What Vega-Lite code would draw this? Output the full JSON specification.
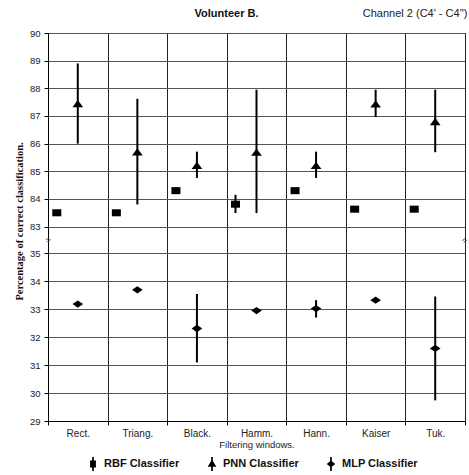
{
  "$schema": "https://vega.github.io/schema/vega-lite/v6.json",
  "width": 417,
  "height": 388,
  "autosize": {"type": "none"},
  "padding": {"left": 48, "top": 33, "right": 4, "bottom": 54},
  "background": "white",
  "title": {"text": "Volunteer B.", "font": "Liberation Sans", "fontSize": 11, "fontWeight": "bold", "anchor": "middle", "dx": -30, "offset": -12, "color": "#111"},
  "datasets": {
    "breaks": [
      {"window": "Rect.", "level": 59, "sym": "="},
      {"window": "Tuk.", "level": 59, "sym": "="}
    ]
  },
  "data": {"values": [
    {"window": "Rect.", "classifier": "RBF Classifier", "mean": 83.5, "lo": 83.5, "hi": 83.5},
    {"window": "Triang.", "classifier": "RBF Classifier", "mean": 83.5, "lo": 83.5, "hi": 83.5},
    {"window": "Black.", "classifier": "RBF Classifier", "mean": 84.3, "lo": 84.3, "hi": 84.3},
    {"window": "Hamm.", "classifier": "RBF Classifier", "mean": 83.81, "lo": 83.49, "hi": 84.15},
    {"window": "Hann.", "classifier": "RBF Classifier", "mean": 84.3, "lo": 84.2, "hi": 84.38},
    {"window": "Kaiser", "classifier": "RBF Classifier", "mean": 83.63, "lo": 83.55, "hi": 83.7},
    {"window": "Tuk.", "classifier": "RBF Classifier", "mean": 83.63, "lo": 83.55, "hi": 83.7},
    {"window": "Rect.", "classifier": "PNN Classifier", "mean": 87.45, "lo": 86.0, "hi": 88.9},
    {"window": "Triang.", "classifier": "PNN Classifier", "mean": 85.7, "lo": 83.8, "hi": 87.62},
    {"window": "Black.", "classifier": "PNN Classifier", "mean": 85.21, "lo": 84.76, "hi": 85.71},
    {"window": "Hamm.", "classifier": "PNN Classifier", "mean": 85.69, "lo": 83.49, "hi": 87.95},
    {"window": "Hann.", "classifier": "PNN Classifier", "mean": 85.21, "lo": 84.76, "hi": 85.71},
    {"window": "Kaiser", "classifier": "PNN Classifier", "mean": 87.44, "lo": 86.96, "hi": 87.95},
    {"window": "Tuk.", "classifier": "PNN Classifier", "mean": 86.8, "lo": 85.69, "hi": 87.95},
    {"window": "Rect.", "classifier": "MLP Classifier", "mean": 33.18, "lo": 33.18, "hi": 33.18},
    {"window": "Triang.", "classifier": "MLP Classifier", "mean": 33.69, "lo": 33.69, "hi": 33.69},
    {"window": "Black.", "classifier": "MLP Classifier", "mean": 32.31, "lo": 31.1, "hi": 33.54},
    {"window": "Hamm.", "classifier": "MLP Classifier", "mean": 32.95, "lo": 32.95, "hi": 32.95},
    {"window": "Hann.", "classifier": "MLP Classifier", "mean": 33.02, "lo": 32.7, "hi": 33.32},
    {"window": "Kaiser", "classifier": "MLP Classifier", "mean": 33.32, "lo": 33.32, "hi": 33.32},
    {"window": "Tuk.", "classifier": "MLP Classifier", "mean": 31.6, "lo": 29.75, "hi": 33.45}
  ]},
  "layer": [
    {
      "transform": [{"filter": "datum.classifier === 'RBF Classifier'"}],
      "mark": {"type": "rule", "color": "#000", "strokeWidth": 2, "xOffset": -21},
      "encoding": {
        "x": {"field": "window", "type": "nominal", "sort": null, "scale": {"paddingInner": 0, "paddingOuter": 0},
          "axis": {"title": "Filtering windows.", "labelAngle": 0, "tickBand": "extent", "grid": true, "gridColor": "#222", "tickSize": 4, "tickColor": "#000", "labelFont": "Liberation Sans", "labelFontSize": 10, "labelColor": "#222", "labelPadding": 3, "titleFont": "Liberation Sans", "titleFontSize": 9.5, "titleFontWeight": "normal", "titleColor": "#222", "titlePadding": 1, "domainColor": "#000"}},
        "y": {"field": "lo", "type": "quantitative",
          "scale": {"domain": [29, 35, 83, 90], "range": [388.4, 220, 193.6, 0], "nice": false, "zero": false},
          "axis": {"title": "Percentage of correct classification.", "values": [29, 30, 31, 32, 33, 34, 35, 83, 84, 85, 86, 87, 88, 89, 90], "grid": true, "gridColor": "#555", "tickSize": 4, "tickColor": "#000", "domainColor": "#000", "labelFont": "Liberation Sans", "labelFontSize": 9.5, "labelColor": "#222", "labelPadding": 4, "titleFont": "Liberation Serif", "titleFontWeight": "bold", "titleFontSize": 10.5, "titleColor": "#111", "titleX": -29, "titleY": 188, "titleAngle": -90, "titleBaseline": "middle", "titleAlign": "center"}},
        "y2": {"field": "hi"}
      }
    },
    {
      "transform": [{"filter": "datum.classifier === 'RBF Classifier'"}],
      "mark": {"type": "point", "filled": true, "color": "#000", "opacity": 1, "size": 121, "strokeWidth": 0, "xOffset": -21},
      "encoding": {
        "x": {"field": "window", "type": "nominal", "sort": null, "scale": {"paddingInner": 0, "paddingOuter": 0},
          "axis": {"orient": "top", "title": "Channel 2 (C4' - C4'')", "labels": false, "ticks": false, "domain": false, "grid": false, "titleAnchor": "end", "titleAlign": "right", "titleX": 419, "titleY": -17, "titleBaseline": "alphabetic", "titleFont": "Liberation Sans", "titleFontSize": 11, "titleFontWeight": "normal", "titleColor": "#222"}},
        "y": {"field": "mean", "type": "quantitative",
          "scale": {"domain": [29, 35, 83, 90], "range": [388.4, 220, 193.6, 0], "nice": false, "zero": false},
          "axis": {"title": "Percentage of correct classification.", "values": [29, 30, 31, 32, 33, 34, 35, 83, 84, 85, 86, 87, 88, 89, 90], "grid": true, "gridColor": "#555", "tickSize": 4, "tickColor": "#000", "domainColor": "#000", "labelFont": "Liberation Sans", "labelFontSize": 9.5, "labelColor": "#222", "labelPadding": 4, "titleFont": "Liberation Serif", "titleFontWeight": "bold", "titleFontSize": 10.5, "titleColor": "#111", "titleX": -29, "titleY": 188, "titleAngle": -90, "titleBaseline": "middle", "titleAlign": "center"}},
        "shape": {"field": "classifier", "type": "nominal",
          "scale": {"domain": ["RBF Classifier", "PNN Classifier", "MLP Classifier"], "range": ["M-0.82,-0.64H0.82V0.64H-0.82Z", "M0,-0.66L0.97,0.66H-0.97Z", "M0,-0.66L0.97,0L0,0.66L-0.97,0Z"]},
          "legend": null}
      }
    },
    {
      "transform": [{"filter": "datum.classifier !== 'RBF Classifier'"}],
      "mark": {"type": "rule", "color": "#000", "strokeWidth": 2},
      "encoding": {
        "x": {"field": "window", "type": "nominal", "sort": null, "scale": {"paddingInner": 0, "paddingOuter": 0}, "axis": null},
        "y": {"field": "lo", "type": "quantitative",
          "scale": {"domain": [29, 35, 83, 90], "range": [388.4, 220, 193.6, 0], "nice": false, "zero": false},
          "axis": {"title": "Percentage of correct classification.", "values": [29, 30, 31, 32, 33, 34, 35, 83, 84, 85, 86, 87, 88, 89, 90], "grid": true, "gridColor": "#555", "tickSize": 4, "tickColor": "#000", "domainColor": "#000", "labelFont": "Liberation Sans", "labelFontSize": 9.5, "labelColor": "#222", "labelPadding": 4, "titleFont": "Liberation Serif", "titleFontWeight": "bold", "titleFontSize": 10.5, "titleColor": "#111", "titleX": -29, "titleY": 188, "titleAngle": -90, "titleBaseline": "middle", "titleAlign": "center"}},
        "y2": {"field": "hi"}
      }
    },
    {
      "transform": [{"filter": "datum.classifier !== 'RBF Classifier'"}],
      "mark": {"type": "point", "filled": true, "color": "#000", "opacity": 1, "size": 121, "strokeWidth": 0},
      "encoding": {
        "x": {"field": "window", "type": "nominal", "sort": null, "scale": {"paddingInner": 0, "paddingOuter": 0}, "axis": null},
        "y": {"field": "mean", "type": "quantitative",
          "scale": {"domain": [29, 35, 83, 90], "range": [388.4, 220, 193.6, 0], "nice": false, "zero": false},
          "axis": {"title": "Percentage of correct classification.", "values": [29, 30, 31, 32, 33, 34, 35, 83, 84, 85, 86, 87, 88, 89, 90], "grid": true, "gridColor": "#555", "tickSize": 4, "tickColor": "#000", "domainColor": "#000", "labelFont": "Liberation Sans", "labelFontSize": 9.5, "labelColor": "#222", "labelPadding": 4, "titleFont": "Liberation Serif", "titleFontWeight": "bold", "titleFontSize": 10.5, "titleColor": "#111", "titleX": -29, "titleY": 188, "titleAngle": -90, "titleBaseline": "middle", "titleAlign": "center"}},
        "shape": {"field": "classifier", "type": "nominal",
          "scale": {"domain": ["RBF Classifier", "PNN Classifier", "MLP Classifier"], "range": ["M-0.82,-0.64H0.82V0.64H-0.82Z", "M0,-0.66L0.97,0.66H-0.97Z", "M0,-0.66L0.97,0L0,0.66L-0.97,0Z"]},
          "legend": null}
      }
    },
    {
      "mark": {"type": "point", "filled": true, "color": "#000", "opacity": 0, "size": 10, "strokeWidth": 0},
      "encoding": {
        "x": {"field": "window", "type": "nominal", "sort": null, "scale": {"paddingInner": 0, "paddingOuter": 0}, "axis": null},
        "y": {"field": "mean", "type": "quantitative",
          "scale": {"domain": [29, 35, 83, 90], "range": [388.4, 220, 193.6, 0], "nice": false, "zero": false},
          "axis": {"title": "Percentage of correct classification.", "values": [29, 30, 31, 32, 33, 34, 35, 83, 84, 85, 86, 87, 88, 89, 90], "grid": true, "gridColor": "#555", "tickSize": 4, "tickColor": "#000", "domainColor": "#000", "labelFont": "Liberation Sans", "labelFontSize": 9.5, "labelColor": "#222", "labelPadding": 4, "titleFont": "Liberation Serif", "titleFontWeight": "bold", "titleFontSize": 10.5, "titleColor": "#111", "titleX": -29, "titleY": 188, "titleAngle": -90, "titleBaseline": "middle", "titleAlign": "center"}},
        "shape": {"field": "classifier", "type": "nominal",
          "scale": {"domain": ["RBF Classifier", "PNN Classifier", "MLP Classifier"], "range": ["M-0.12,-1H0.12V1H-0.12Z M-0.42,-0.5H0.42V0.5H-0.42Z", "M-0.12,-1H0.12V1H-0.12Z M0,-0.65L0.62,0.4H-0.62Z", "M-0.12,-1H0.12V1H-0.12Z M0,-0.5L0.6,0L0,0.5L-0.6,0Z"]},
          "legend": {"orient": "none", "direction": "horizontal", "legendX": 38, "legendY": 424, "title": null, "labelFont": "Liberation Sans", "labelFontWeight": "bold", "labelFontSize": 11, "labelColor": "#111", "symbolSize": 196, "symbolFillColor": "#000", "symbolStrokeWidth": 0, "symbolOpacity": 1, "columnPadding": 25, "labelOffset": 4}}
      }
    },
    {
      "data": {"name": "breaks"},
      "transform": [{"filter": "datum.window === 'Rect.'"}],
      "mark": {"type": "text", "color": "#333", "fontSize": 9, "font": "Liberation Sans", "angle": 320, "align": "center", "baseline": "middle"},
      "encoding": {
        "x": {"field": "window", "type": "nominal", "sort": null, "bandPosition": 0, "scale": {"paddingInner": 0, "paddingOuter": 0}, "axis": null},
        "y": {"field": "level", "type": "quantitative",
          "scale": {"domain": [29, 35, 83, 90], "range": [388.4, 220, 193.6, 0], "nice": false, "zero": false},
          "axis": {"title": "Percentage of correct classification.", "values": [29, 30, 31, 32, 33, 34, 35, 83, 84, 85, 86, 87, 88, 89, 90], "grid": true, "gridColor": "#555", "tickSize": 4, "tickColor": "#000", "domainColor": "#000", "labelFont": "Liberation Sans", "labelFontSize": 9.5, "labelColor": "#222", "labelPadding": 4, "titleFont": "Liberation Serif", "titleFontWeight": "bold", "titleFontSize": 10.5, "titleColor": "#111", "titleX": -29, "titleY": 188, "titleAngle": -90, "titleBaseline": "middle", "titleAlign": "center"}},
        "text": {"field": "sym"}
      }
    },
    {
      "data": {"name": "breaks"},
      "transform": [{"filter": "datum.window === 'Tuk.'"}],
      "mark": {"type": "text", "color": "#333", "fontSize": 9, "font": "Liberation Sans", "angle": 320, "align": "right", "baseline": "middle", "dx": 2},
      "encoding": {
        "x": {"field": "window", "type": "nominal", "sort": null, "bandPosition": 1, "scale": {"paddingInner": 0, "paddingOuter": 0}, "axis": null},
        "y": {"field": "level", "type": "quantitative",
          "scale": {"domain": [29, 35, 83, 90], "range": [388.4, 220, 193.6, 0], "nice": false, "zero": false},
          "axis": {"title": "Percentage of correct classification.", "values": [29, 30, 31, 32, 33, 34, 35, 83, 84, 85, 86, 87, 88, 89, 90], "grid": true, "gridColor": "#555", "tickSize": 4, "tickColor": "#000", "domainColor": "#000", "labelFont": "Liberation Sans", "labelFontSize": 9.5, "labelColor": "#222", "labelPadding": 4, "titleFont": "Liberation Serif", "titleFontWeight": "bold", "titleFontSize": 10.5, "titleColor": "#111", "titleX": -29, "titleY": 188, "titleAngle": -90, "titleBaseline": "middle", "titleAlign": "center"}},
        "text": {"field": "sym"}
      }
    }
  ],
  "resolve": {"axis": {"x": "independent"}, "scale": {"shape": "independent"}, "legend": {"shape": "independent"}},
  "config": {
    "view": {"stroke": "#888"}
  }
}
